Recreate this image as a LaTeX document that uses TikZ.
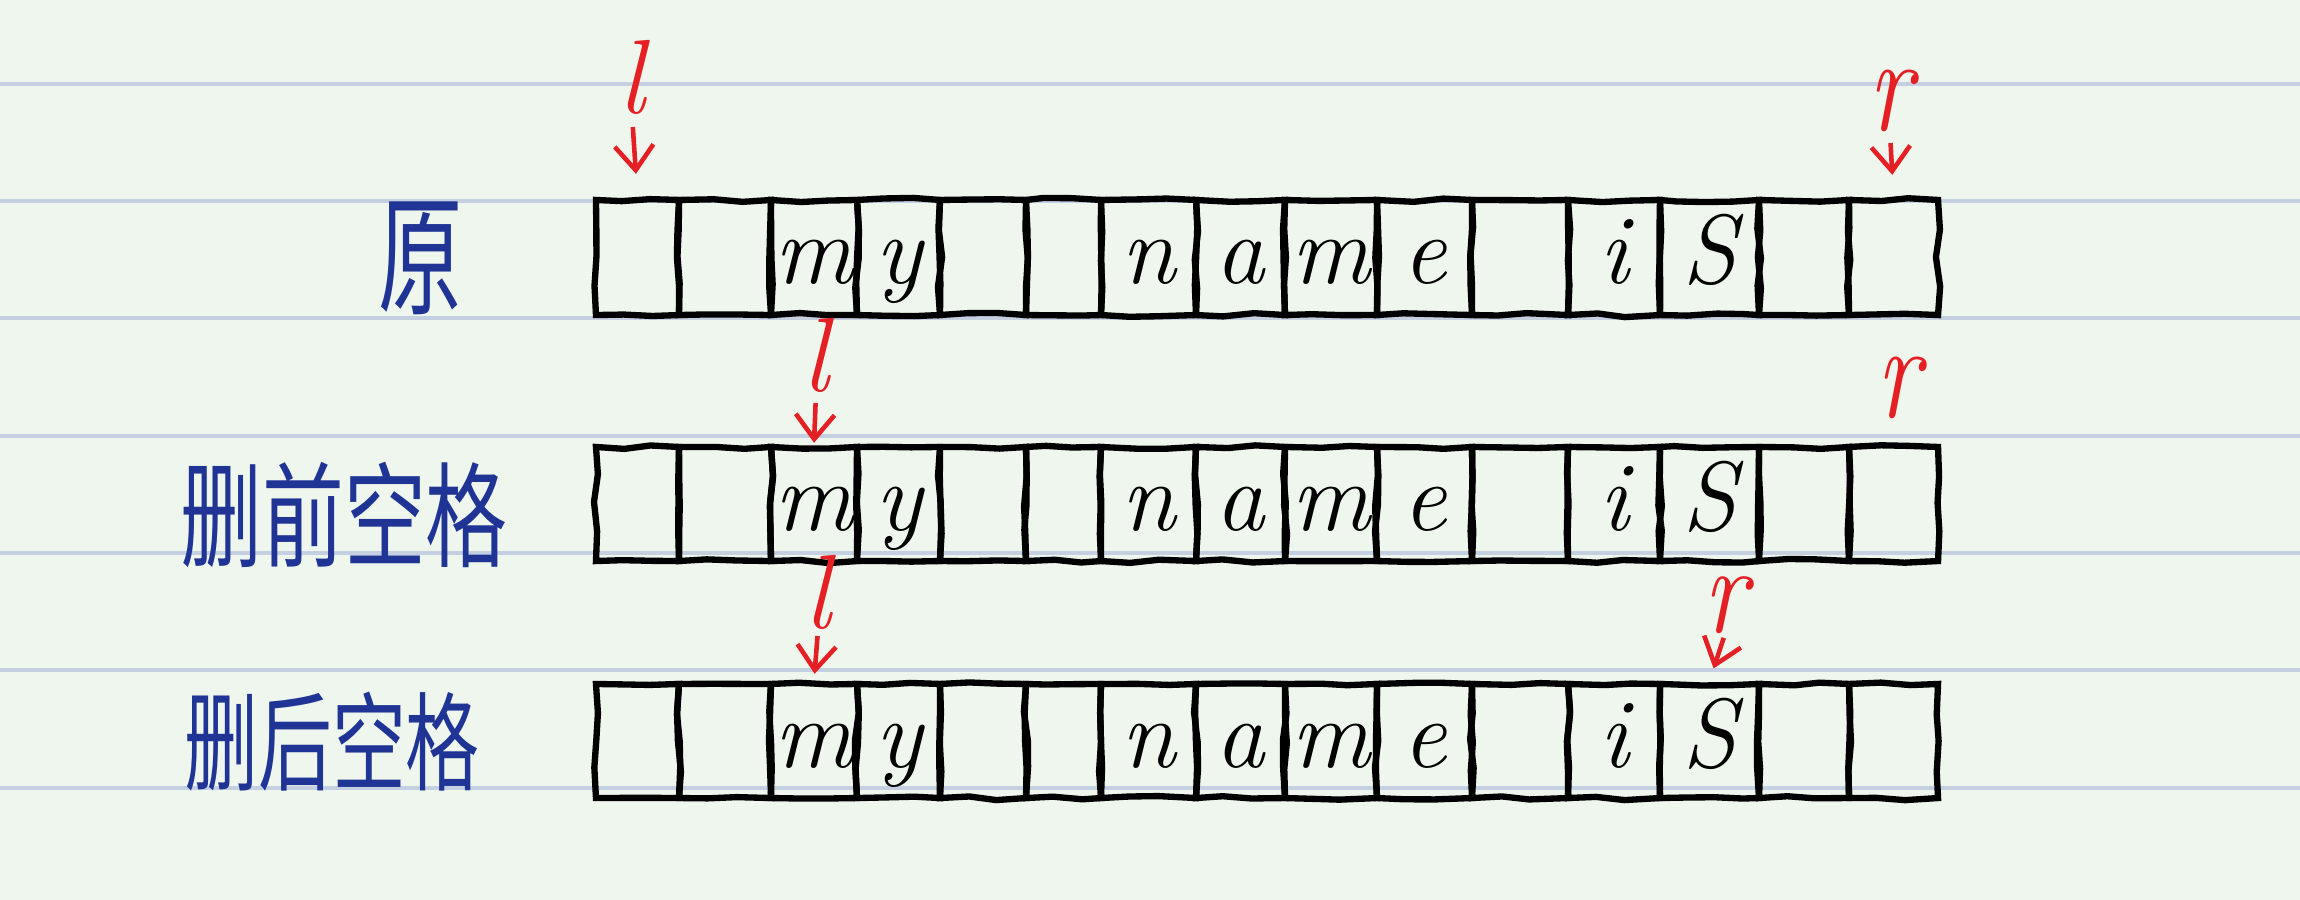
\documentclass[tikz,border=0pt]{standalone}
\usepackage{graphicx}
\usepackage{fontspec}
\newfontfamily\cjk{Noto Sans CJK SC}
\usetikzlibrary{arrows.meta,decorations.pathmorphing}
\definecolor{paper}{RGB}{239,246,237}
\definecolor{ruling}{RGB}{197,207,226}
\definecolor{inkblue}{RGB}{32,52,150}
\definecolor{inkred}{RGB}{228,32,36}
\tikzset{
  cellbox/.style={draw=black, line width=1.8pt, inner sep=0pt,
    font=\fontsize{28}{30}\selectfont\itshape, text height=18pt, text depth=3pt,
    decorate, decoration={random steps, segment length=8pt, amplitude=0.6pt}},
  rowlabel/.style={text=inkblue, inner sep=0pt, font=\cjk},
  ptrlabel/.style={text=inkred, inner sep=0pt, anchor=south,
    font=\fontsize{30}{32}\selectfont\itshape},
  ptr/.style={draw=inkred, line width=1.3pt, -{Straight Barb[length=7pt,width=11pt]}},
  ruleline/.style={draw=ruling, line width=1.1pt},
}
\begin{document}
\begin{tikzpicture}[x=0.01cm,y=-0.01cm]
\fill[paper] (0,0) rectangle (2300,900);
\useasboundingbox (0,0) rectangle (2300,900);
\foreach \yy in {84,201,318,436,553,670,788} \draw[ruleline] (0,\yy) -- (2300,\yy);
\pgfmathsetseed{7}
\foreach \rw/\tp/\bt in {1/200/315,2/447/561,3/684/798}{
  \foreach \a/\b/\t [count=\i] in {596/679/{},679/771/{},771/857/m,857/940/y,940/1026/{},1026/1101/{},1101/1196/n,1196/1285/a,1285/1377/m,1377/1472/e,1472/1568/{},1568/1660/i,1660/1759/S,1759/1849/{},1849/1938/{}}{
    \pgfmathsetmacro\cw{(\b-\a)*0.2845}
    \pgfmathsetmacro\ch{(\bt-\tp)*0.2845}
    \pgfmathsetmacro\cx{(\a+\b)/2}
    \pgfmathsetmacro\cy{(\tp+\bt)/2}
    \node[cellbox, minimum width=\cw pt, minimum height=\ch pt]
      (c\rw-\i) at (\cx,\cy) {\t};
  }
}
% row labels
\node[rowlabel] (lab1) at (421,258) {\fontsize{24}{24}\selectfont\scalebox{1}[1.55]{原}};
\node[rowlabel] (lab2) at (344,515) {\fontsize{24}{24}\selectfont\scalebox{0.97}[1.35]{删前空格}};
\node[rowlabel] (lab3) at (332,742) {\fontsize{21}{21}\selectfont\scalebox{1}[1.45]{删后空格}};
% pointer labels
\node[ptrlabel] (pl1) at (632,115) {l};
\node[ptrlabel] (pr1) at (1890,133) {\scalebox{1}[1.3]{r}};
\node[ptrlabel] (pl2) at (816,393) {l};
\node[ptrlabel] (pr2) at (1898,420) {\scalebox{1}[1.3]{r}};
\node[ptrlabel] (pl3) at (818,630) {l};
\node[ptrlabel] (pr3) at (1725,634) {\scalebox{1}[1.2]{r}};
% pointer arrows
\draw[ptr, shorten <=0.12cm, shorten >=0.23cm] (pl1.south) -- (c1-1.north);
\draw[ptr, shorten <=0.10cm, shorten >=0.22cm] (pr1.south) -- (c1-15.north);
\draw[ptr, shorten <=0.10cm, shorten >=0.01cm] (pl2.south) -- (c2-3.north);
\draw[ptr, shorten <=0.06cm, shorten >=0.07cm] (pl3.south) -- (c3-3.north);
\draw[ptr, shorten <=0.04cm, shorten >=0.13cm] (pr3.south) -- (c3-13.north);
\end{tikzpicture}
\end{document}
